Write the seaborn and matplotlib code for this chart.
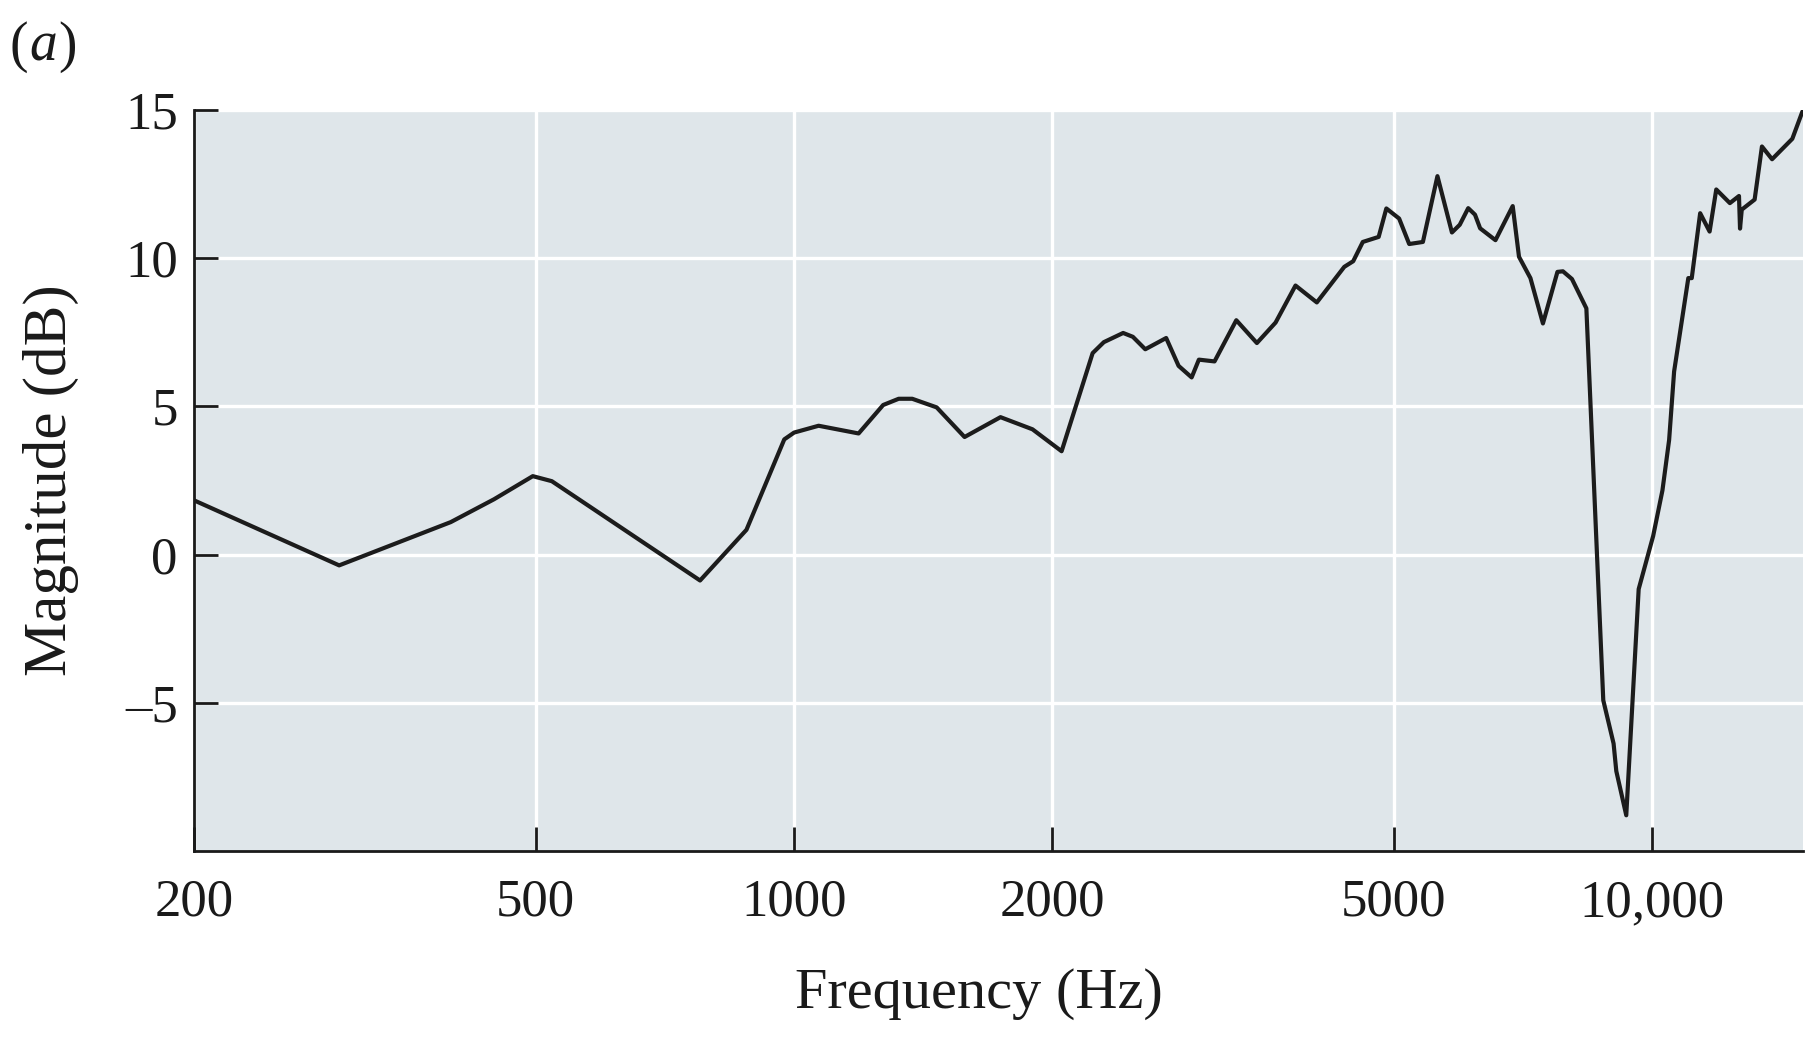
import matplotlib
matplotlib.use("Agg")
import matplotlib.pyplot as plt
import seaborn as sns
import pandas as pd

# ---- data ----
freq_hz = [200, 295, 398, 447, 496, 522, 777, 880, 974, 1000, 1068, 1189, 1270,
           1324, 1373, 1466, 1580, 1740, 1896, 2050, 2228, 2296, 2418, 2482,
           2566, 2714, 2806, 2906, 2963, 3090, 3276, 3462, 3640, 3840, 4066,
           4377, 4483, 4600, 4800, 4900, 5071, 5210, 5405, 5620, 5843, 5967,
           6104, 6216, 6302, 6567, 6878, 6995, 7213, 7459, 7755, 7870, 8063,
           8381, 8770, 9016, 9082, 9328, 9644, 10026, 10279, 10465, 10606,
           11018, 11120, 11374, 11666, 11876, 12318, 12623, 12658, 12717,
           13164, 13425, 13795, 14565, 14965]
magnitude_db = [1.83, -0.36, 1.10, 1.87, 2.65, 2.48, -0.87, 0.84, 3.89, 4.12,
                4.35, 4.09, 5.05, 5.26, 5.26, 4.97, 3.97, 4.64, 4.23, 3.49,
                6.80, 7.17, 7.48, 7.35, 6.93, 7.31, 6.37, 5.98, 6.58, 6.52,
                7.91, 7.14, 7.83, 9.08, 8.51, 9.71, 9.90, 10.55, 10.72, 11.68,
                11.34, 10.48, 10.55, 12.77, 10.87, 11.13, 11.69, 11.47, 11.01,
                10.61, 11.76, 10.05, 9.33, 7.80, 9.54, 9.56, 9.30, 8.31, -4.91,
                -6.37, -7.30, -8.79, -1.16, 0.63, 2.17, 3.87, 6.18, 9.33, 9.33,
                11.52, 10.90, 12.32, 11.86, 12.10, 11.00, 11.64, 11.98, 13.77,
                13.34, 14.03, 14.95]

x_ticks = [200, 500, 1000, 2000, 5000, 10000]
x_tick_labels = ["200", "500", "1000", "2000", "5000", "10,000"]
y_ticks = [-5, 0, 5, 10, 15]
y_tick_labels = ["\u20135", "0", "5", "10", "15"]

df = pd.DataFrame({"Frequency": freq_hz, "Magnitude": magnitude_db})

sns.set_style("white")
plt.rcParams["font.family"] = ["Liberation Serif", "DejaVu Serif"]

fig = plt.figure(figsize=(18.16, 10.38), dpi=100)
ax = fig.add_axes([0.107, 0.180, 0.886, 0.714])
ax.set_facecolor("#dfe6ea")

ax.set_xscale("log")
ax.set_xlim(200, 15000)
ax.set_ylim(-10, 15)

ax.set_xticks(x_ticks)
ax.set_xticklabels(x_tick_labels)
ax.xaxis.set_minor_locator(matplotlib.ticker.NullLocator())
ax.set_yticks(y_ticks)
ax.set_yticklabels(y_tick_labels)

ax.grid(True, color="white", linewidth=2.4, zorder=0)
ax.set_axisbelow(True)

sns.lineplot(data=df, x="Frequency", y="Magnitude", ax=ax, sort=False,
             color="#1c1c1c", linewidth=3.0, zorder=3)

for s in ["top", "right"]:
    ax.spines[s].set_visible(False)
for s in ["left", "bottom"]:
    ax.spines[s].set_color("#1a1a1a")
    ax.spines[s].set_linewidth(2.0)

ax.tick_params(axis="both", which="major", direction="in", length=17,
               width=2.0, color="#1a1a1a", labelsize=38, labelcolor="#1a1a1a",
               bottom=True, left=True, top=False, right=False)
ax.tick_params(axis="y", pad=12)
ax.tick_params(axis="x", pad=20)

ax.set_xlabel("Frequency (Hz)", fontsize=42, color="#1a1a1a")
ax.set_ylabel("Magnitude (dB)", fontsize=44, color="#1a1a1a")
ax.xaxis.set_label_coords(0.4876, -0.193)
ax.yaxis.set_label_coords(-0.089, 0.5)
ax.xaxis.label.set_va("center")
ax.yaxis.label.set_va("center")

t1 = fig.text(0.005, 0.955, "(", fontsize=40, va="center", color="#1a1a1a")
a2 = ax.annotate("a", xy=(1, 0), xycoords=t1, xytext=(1, 0),
                 textcoords="offset points", fontsize=40, style="italic",
                 va="bottom", ha="left", color="#1a1a1a", annotation_clip=False)
ax.annotate(")", xy=(1, 0), xycoords=a2, xytext=(1, 0),
            textcoords="offset points", fontsize=40, va="bottom", ha="left",
            color="#1a1a1a", annotation_clip=False)

fig.savefig("out.png", dpi=100)
